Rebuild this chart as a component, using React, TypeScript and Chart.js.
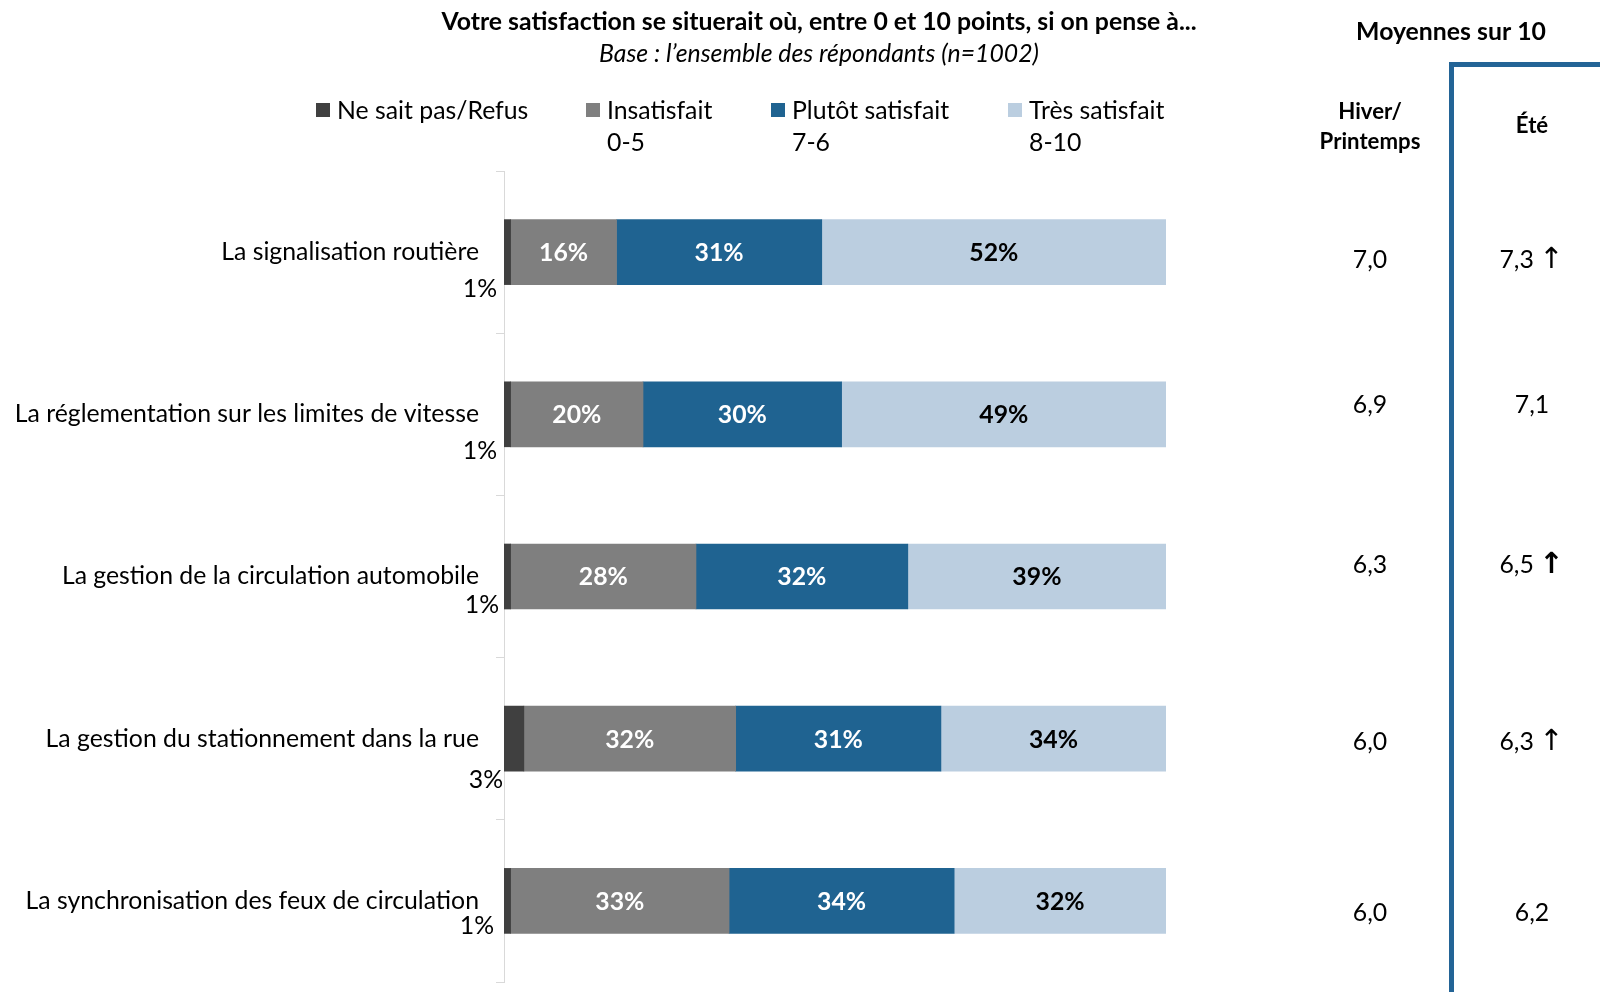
import React, { useEffect, useRef } from "react";
import { Chart, registerables } from "chart.js";

Chart.register(...registerables);

const categories = [
  "La signalisation routière",
  "La réglementation sur les limites de vitesse",
  "La gestion de la circulation automobile",
  "La gestion du stationnement dans la rue",
  "La synchronisation des feux de circulation",
];
const seriesNames = ["Ne sait pas/Refus", "Insatisfait", "Plutôt satisfait", "Très satisfait"];
const seriesSub = ["", "0-5", "7-6", "8-10"];
const nspValues = [1, 1, 1, 3, 1];
const insatisfaitValues = [16, 20, 28, 32, 33];
const plutotValues = [31, 30, 32, 31, 34];
const tresValues = [52, 49, 39, 34, 32];
const hiverValues = ["7,0", "6,9", "6,3", "6,0", "6,0"];
const eteValues = ["7,3", "7,1", "6,5", "6,3", "6,2"];
const eteArrows = ["thin", "", "bold", "thin", ""];

const title = "Votre satisfaction se situerait où, entre 0 et 10 points, si on pense à...";
const subtitle = "Base : l’ensemble des répondants (n=1002)";

const COLORS = ["#404040", "#7F7F7F", "#1F6391", "#BBCEE0"];
const PANEL_BLUE = "#236496";
const FONT = "Lato, 'Open Sans', sans-serif";
const FS = 24.8;

// layout offsets for the small "x%" labels and the side-panel values
const nspLabelDx = [-7, -7, -5, -1, -10];
const nspLabelDy = [37, 37, 29, 41, 25];
const panelDy = [7, -10, -13, 2, 11];

const overlay = {
  id: "overlay",
  afterDatasetsDraw(chart: any) {
    const ctx = chart.ctx;
    ctx.save();
    ctx.textBaseline = "middle";
    for (let d = 1; d < 4; d++) {
      const meta = chart.getDatasetMeta(d);
      meta.data.forEach((bar: any, i: number) => {
        const v = chart.data.datasets[d].data[i];
        const cx = (bar.x + bar.base) / 2;
        ctx.font = `bold ${FS}px ${FONT}`;
        ctx.fillStyle = d === 3 ? "#000000" : "#FFFFFF";
        ctx.textAlign = "center";
        ctx.fillText(`${v}%`, cx, bar.y + 1);
      });
    }
    const m0 = chart.getDatasetMeta(0);
    m0.data.forEach((bar: any, i: number) => {
      const v = chart.data.datasets[0].data[i];
      ctx.font = `${FS}px ${FONT}`;
      ctx.fillStyle = "#000000";
      ctx.textAlign = "right";
      ctx.fillText(`${v}%`, chart.chartArea.left + nspLabelDx[i], bar.y + nspLabelDy[i]);
    });
    ctx.restore();
  },
  afterDraw(chart: any) {
    const ctx = chart.ctx;
    ctx.save();
    ctx.textBaseline = "middle";
    ctx.fillStyle = "#000000";
    ctx.textAlign = "center";
    ctx.font = `bold ${FS}px ${FONT}`;
    ctx.fillText(title, 819, 22);
    ctx.font = `italic ${FS}px ${FONT}`;
    ctx.fillText(subtitle, 819, 54);
    const legX = [316, 586, 771, 1008];
    ctx.textAlign = "left";
    ctx.font = `${FS}px ${FONT}`;
    seriesNames.forEach((n, i) => {
      ctx.fillStyle = COLORS[i];
      ctx.fillRect(legX[i], 103, 14, 14);
      ctx.fillStyle = "#000000";
      ctx.fillText(n, legX[i] + 21, 111);
      if (seriesSub[i]) ctx.fillText(seriesSub[i], legX[i] + 21, 143);
    });
    ctx.fillStyle = PANEL_BLUE;
    ctx.fillRect(1449, 62, 5, 992 - 62);
    ctx.fillRect(1449, 62, 1600 - 1449, 5);
    ctx.fillStyle = "#000000";
    ctx.textAlign = "center";
    ctx.font = `bold ${FS}px ${FONT}`;
    ctx.fillText("Moyennes sur 10", 1451, 32);
    ctx.font = `bold 22.2px ${FONT}`;
    ctx.fillText("Hiver/", 1370, 112);
    ctx.fillText("Printemps", 1370, 142);
    ctx.fillText("Été", 1532, 126);
    const meta = chart.getDatasetMeta(0);
    meta.data.forEach((bar: any, i: number) => {
      const y = bar.y + panelDy[i];
      const base = y + 9;
      ctx.textBaseline = "alphabetic";
      ctx.font = `${FS}px ${FONT}`;
      ctx.textAlign = "center";
      ctx.fillText(hiverValues[i], 1370, base);
      const arrow = eteArrows[i];
      if (!arrow) {
        ctx.fillText(eteValues[i], 1532, base);
      } else {
        const t1 = eteValues[i] + " ";
        const w1 = ctx.measureText(t1).width;
        const af = `${arrow === "bold" ? "bold " : ""}29px 'DejaVu Sans', ${FONT}`;
        ctx.font = af;
        const w2 = ctx.measureText("↑").width;
        const start = 1532 - (w1 + w2) / 2;
        ctx.textAlign = "left";
        ctx.font = `${FS}px ${FONT}`;
        ctx.fillText(t1, start, base);
        ctx.font = af;
        ctx.fillText("↑", start + w1 - 1, base);
      }
    });
    ctx.restore();
  },
};

export default function App() {
  const ref = useRef<HTMLCanvasElement | null>(null);
  useEffect(() => {
    if (!ref.current) return;
    const values = [nspValues, insatisfaitValues, plutotValues, tresValues];
    const chart = new Chart(ref.current, {
      type: "bar",
      data: {
        labels: categories,
        datasets: values.map((vals, i) => ({
          label: seriesNames[i],
          data: vals,
          backgroundColor: COLORS[i],
          borderWidth: 0,
          barThickness: 65,
        })),
      },
      options: {
        indexAxis: "y",
        animation: false,
        responsive: false,
        layout: { padding: { top: 171, bottom: 10, right: 434, left: 0 } },
        plugins: { legend: { display: false }, tooltip: { enabled: false }, title: { display: false } },
        scales: {
          x: { stacked: true, min: 0, max: 100, display: false },
          y: {
            stacked: true,
            afterFit: (scale: any) => {
              scale.width = 504;
              scale.paddingTop = 0;
              scale.paddingBottom = 0;
            },
            grid: {
              display: true,
              drawOnChartArea: false,
              drawTicks: true,
              tickLength: 8,
              color: "#D9D9D9",
              offset: true,
            },
            border: { display: true, color: "#D9D9D9", width: 1 },
            ticks: {
              padding: 17,
              color: "#000000",
              font: { family: FONT, size: FS },
            },
          },
        },
      },
      plugins: [overlay],
    });
    return () => chart.destroy();
  }, []);
  return (
    <div style={{ position: "absolute", left: 0, top: 0, width: 1600, height: 992, background: "#fff" }}>
      <canvas ref={ref} width={1600} height={992} style={{ width: 1600, height: 992 }} />
    </div>
  );
}
